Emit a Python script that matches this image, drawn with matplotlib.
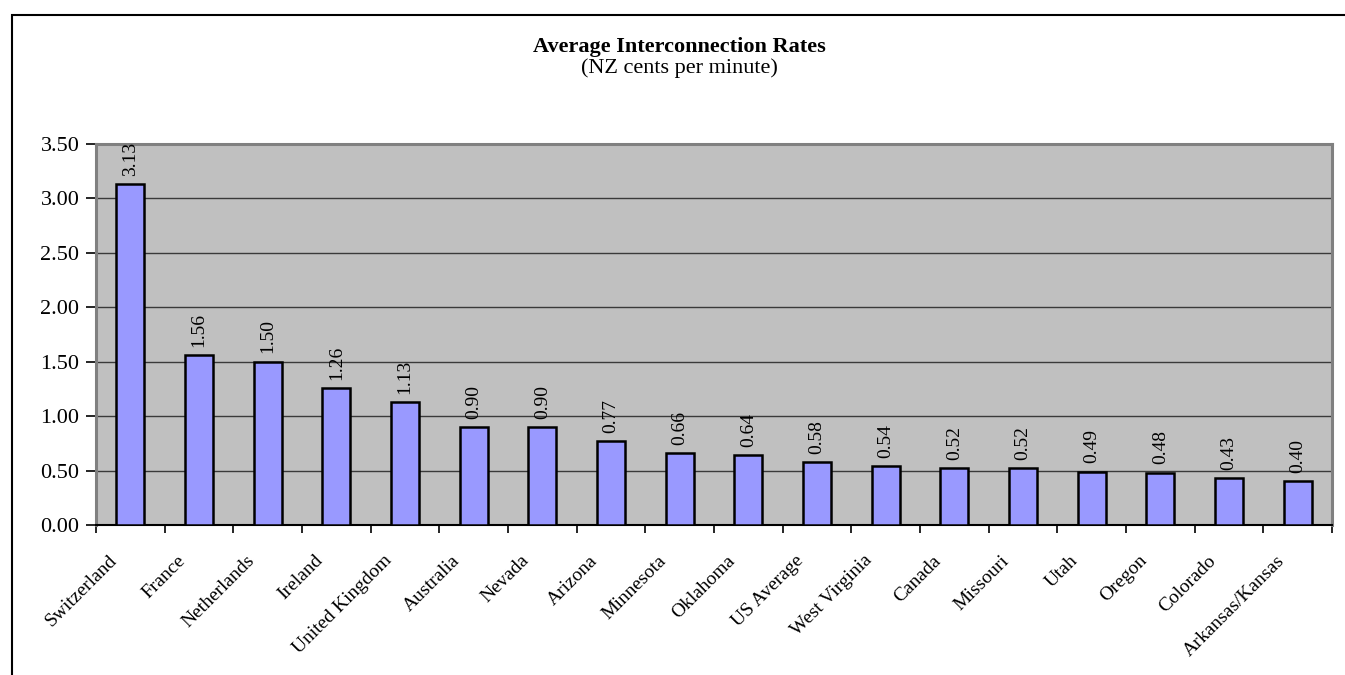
import matplotlib
matplotlib.use("Agg")
import matplotlib.pyplot as plt
from matplotlib.patches import Rectangle
from matplotlib.transforms import ScaledTranslation

# Chart data
categories = [
    "Switzerland", "France", "Netherlands", "Ireland", "United Kingdom",
    "Australia", "Nevada", "Arizona", "Minnesota", "Oklahoma", "US Average",
    "West Virginia", "Canada", "Missouri", "Utah", "Oregon", "Colorado",
    "Arkansas/Kansas",
]
rates = [3.13, 1.56, 1.50, 1.26, 1.13, 0.90, 0.90, 0.77, 0.66, 0.64, 0.58,
         0.54, 0.52, 0.52, 0.49, 0.48, 0.43, 0.40]
y_ticks = [0.0, 0.5, 1.0, 1.5, 2.0, 2.5, 3.0, 3.5]

plt.rcParams["font.family"] = ["Liberation Serif", "DejaVu Serif"]

W, H = 1345, 675
fig = plt.figure(figsize=(W / 100, H / 100), dpi=100)

# outer chart-area border (top/left visible, right runs off the image)
fig.patches.append(Rectangle((12 / W, -0.1), 1.2, (H - 15) / H + 0.1,
                             transform=fig.transFigure, fill=False,
                             edgecolor="black", lw=1.5))

left, right, top, bottom = 96, 1332, 144, 525
ax = fig.add_axes([left / W, 1 - bottom / H, (right - left) / W, (bottom - top) / H])
ax.set_facecolor("#c0c0c0")

x = list(range(len(categories)))
ax.bar(x, rates, width=0.41, color="#9999ff", edgecolor="black",
       linewidth=1.8, zorder=3)

for xi, v in zip(x, rates):
    ax.annotate(f"{v:.2f}", (xi, v), xytext=(0, 6), textcoords="offset points",
                rotation=90, ha="center", va="bottom", fontsize=14, zorder=4)

ax.set_xlim(-0.5, len(categories) - 0.5)
ax.set_ylim(0, 3.5)
ax.set_yticks(y_ticks)
ax.set_yticklabels([f"{t:.2f}" for t in y_ticks], fontsize=16)
ax.yaxis.grid(True, color="#3a3a3a", linewidth=1.0, zorder=1)
ax.set_axisbelow(True)

# ticks between categories on the x axis
ax.set_xticks([i - 0.5 for i in range(len(categories) + 1)])
ax.set_xticklabels([])
ax.tick_params(axis="x", length=6, width=1.2, direction="out")
ax.tick_params(axis="y", length=7, width=1.2, direction="out", pad=5)

# category labels, slanted, ending just left of each bar centre
label_tf = ax.get_xaxis_transform() + ScaledTranslation(-0.22, -0.27, fig.dpi_scale_trans)
for xi, name in zip(x, categories):
    ax.text(xi, 0, name, transform=label_tf, rotation=45, ha="right", va="top",
            rotation_mode="anchor", fontsize=14, clip_on=False)

for side in ["top", "right", "left"]:
    ax.spines[side].set_color("#808080")
    ax.spines[side].set_linewidth(2.2)
ax.spines["bottom"].set_color("black")
ax.spines["bottom"].set_linewidth(1.5)

fig.text(679 / W, 1 - 47 / H, "Average Interconnection Rates", ha="center",
         va="center", fontsize=16, fontweight="bold")
fig.text(679 / W, 1 - 68 / H, "(NZ cents per minute)", ha="center",
         va="center", fontsize=16)

fig.savefig("out.png", dpi=100)
